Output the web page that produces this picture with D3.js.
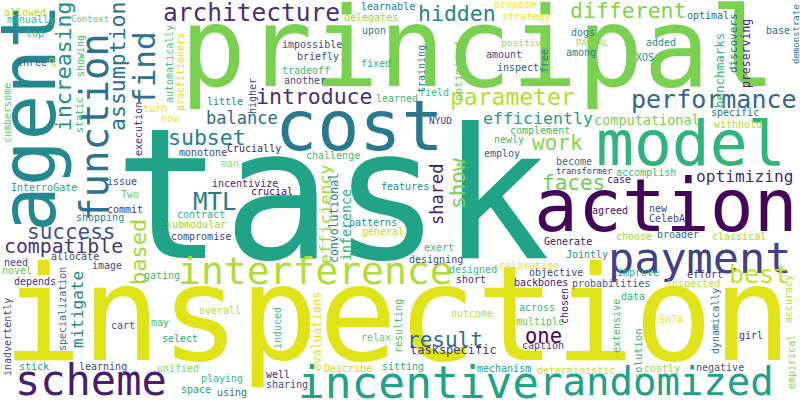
<!DOCTYPE html>
<html>
<head>
<meta charset="utf-8">
<script src="https://cdn.jsdelivr.net/npm/d3@7/dist/d3.min.js"></script>
<style>
html,body{margin:0;padding:0;background:#fff;}
svg{display:block;}
</style>
</head>
<body>
<script>
// Word cloud terms and their weights (font size units)
const words = [
"task","principal","inspection","cost","action","model","agent","scheme",
"incentive","randomized","interference","payment","function","architecture","performance","parameter",
"best","MTL","hidden","different","introduce","subset","increasing","assumption",
"find","work","faces","success","compatible","result","one","based",
"show","shared","efficiency","efficiently","optimizing","balance","mitigate","computational",
"inference","convolutional","taskspecific","evaluations","benchmarks","discovers","preserving","optimized",
"allowed","manually","Context","top","three","turn","now","little",
"learnable","delegates","upon","impossible","briefly","fixed","tradeoff","another",
"field","learned","propose","strategy","positive","amount","inspect","NYUD",
"complement","newly","optimal","dogs","PASCAL","among","added","XOS",
"base","specific","withhold","become","transformer","accomplish","case","agreed",
"new","CelebA","choose","broader","classical","Generate","Jointly","relaxation",
"monotone","Crucially","man","issue","InterroGate","Two","incentivize","crucial",
"commit","shopping","contract","submodular","compromise","allocate","need","image",
"novel","depends","gating","overall","may","cart","select","stick",
"learning","unified","playing","space","using","designing","designed","short",
"objective","backbones","improve","effort","probabilities","inspected","across","data",
"multiple","SoTA","girl","caption","deterministic","costly","negative","Describe",
"sitting","mechanism","well","sharing","relax","outcome","challenge","employ",
"features","patterns","general","exert",
"v2","showing","static","cumbersome","automatically","practitioners","higher","execution",
"training","free","demonstrate","specialization","inadvertently","induced","resulting","chosen",
"accuracy","extensive","dynamically","empirical","solution"
];
const weights = [
181,110,131,70,73,63,76,42,
44.5,39,38,43.5,39,24.5,25,23,
25,24,21.5,21.5,21.5,21.5,21.5,21.5,
31,21,21,21,19.8,21,20.5,22,
21,17,16.5,16.6,16.2,17,16,13.5,
13.3,11.5,12,12,12.5,11,11.5,11,
10,10,9,10,10,10,10,10,
10,10,10,10,10,10,10,10,
10,10,10,10,9.5,10,10,9.5,
10,10,10,10,9,10,10,10,
10,10,10,10,8.5,10,10,10,
10,10,10,10,10,10,10,10,
10,10,10,10,10,10,10,10,
10,10,10,10,10,10,10,10,
10,10,10,10,10,10,10,10,
10,10,10,10,10,10,10,10,
10,10,10,10,10,10,10,10,
10,10,10,10,10,10,10,10,
10,10,10,10,10,10,10,10,
10,10,10,10,
9,10,10,10,10,10,10,10,
10,10,9,10,10,10,10,10,
10,10,10,10,10.5
];
// Colour tone of each term on the viridis ramp
const tones = [
.58,.80,.95,.40,.01,.65,.47,.08,
.58,.57,.88,.19,.37,.13,.33,.89,
.92,.40,.45,.81,.14,.43,.49,.37,
.37,.82,.78,.26,.15,.35,.00,.86,
.80,.07,.85,.55,.12,.35,.46,.80,
.64,.43,.13,.96,.66,.34,.10,.79,
.87,.70,.78,.65,.30,.96,.98,.45,
.42,.84,.42,.22,.22,.65,.67,.23,
.69,.67,1.0,.98,.84,.22,.26,.17,
.67,.68,.35,.45,.85,.45,.50,.50,
.36,.38,.87,.35,.14,.68,.06,.04,
.22,.22,.86,.35,.87,.05,.50,.97,
.22,.07,.86,.23,.60,.78,.12,.03,
.15,.45,.65,.84,.19,.20,.18,.22,
.75,.14,.68,.89,.71,.26,.60,.55,
.20,.82,.68,.58,.37,.22,.68,.14,
.21,.06,.64,.13,.27,.90,.67,.65,
.74,.98,.14,.19,.92,.84,.27,.90,
.62,.55,.13,.20,.78,.90,.68,.32,
.47,.50,.90,.68,
.90,.68,.68,.75,.72,.93,.20,.14,
.40,.37,.39,.35,.22,.68,.68,.06,
.88,.68,.35,.82,.66
];
// Placement of each term: [x, y, vertical?]
// horizontal: x = text start, y = baseline; vertical: x = baseline, y = text start (reads upward)
const spots = [
[114,258,0],[180,86,0],[3,360,0],[275,150,0],[534,231,0],[596,165,0],[55,232,1],[15,395,0],
[298,398,0],[539,395,0],[178,284,0],[608,273,0],[108,221,1],[163,21,0],[631,108,0],[450,105,0],
[729,283,0],[193,210,0],[418,21,0],[570,18,0],[256,104,0],[168,145,0],[71,131,1],[125,131,1],
[155,106,1],[532,150,0],[542,190,0],[27,239,0],[4,253,0],[407,347,0],[525,343,0],[146,285,1],
[465,209,1],[443,225,1],[331,264,1],[483,124,0],[696,182,0],[206,124,0],[83,348,1],[594,125,0],
[351,261,1],[338,263,1],[410,354,0],[321,371,1],[724,108,1],[737,73,1],[750,88,1],[462,101,1],
[4,16,0],[7,23,0],[71,22,0],[26,37,0],[17,66,0],[143,112,0],[161,122,0],[207,105,0],
[361,10,0],[344,21,0],[362,34,0],[282,48,0],[297,60,0],[361,67,0],[282,74,0],[284,84,0],
[419,96,0],[376,102,0],[494,8,0],[502,20,0],[501,46,0],[486,58,0],[497,71,0],[429,124,0],
[510,134,0],[494,143,0],[687,19,0],[571,36,0],[576,46,0],[566,56,0],[646,46,0],[636,61,0],
[766,34,0],[711,116,0],[714,128,0],[556,165,0],[556,174,0],[616,176,0],[607,183,0],[592,214,0],
[649,212,0],[649,222,0],[616,240,0],[657,238,0],[712,240,0],[544,245,0],[566,258,0],[499,269,0],
[179,156,0],[227,152,0],[221,167,0],[107,185,0],[11,191,0],[121,198,0],[212,187,0],[251,195,0],
[107,213,0],[76,221,0],[177,218,0],[166,228,0],[171,240,0],[51,260,0],[4,266,0],[92,269,0],
[2,274,0],[14,285,0],[144,279,0],[199,314,0],[151,326,0],[111,329,0],[162,342,0],[19,370,0],
[79,370,0],[157,372,0],[201,382,0],[181,393,0],[217,396,0],[409,263,0],[449,273,0],[456,283,0],
[529,276,0],[514,286,0],[617,276,0],[687,278,0],[572,287,0],[666,287,0],[519,311,0],[621,300,0],
[516,325,0],[659,323,0],[739,339,0],[522,349,0],[537,374,0],[644,372,0],[696,371,0],[324,372,0],
[382,370,0],[477,372,0],[266,378,0],[266,388,0],[361,341,0],[451,317,0],[306,159,0],[484,157,0],
[381,190,0],[349,226,0],[362,235,0],[424,251,0],
[56,68,1],[84,77,1],[83,133,1],[11,143,1],[173,103,1],[184,111,1],[256,114,1],[142,156,1],
[425,93,1],[548,73,1],[799,64,1],[66,351,1],[11,376,1],[281,349,1],[402,353,1],[568,324,1],
[792,323,1],[620,353,1],[719,354,1],[795,389,1],[642,379,1]
];

const W = 800, H = 400;
const svg = d3.select("body").append("svg").attr("width", W).attr("height", H)
  .style("background", "#fff");
const x = d3.scaleLinear().domain([0, 800]).range([0, W]);
const y = d3.scaleLinear().domain([0, 400]).range([0, H]);
const size = d3.scaleLinear().domain([0, 181]).range([0, 181]);
const color = d3.scaleSequential(d3.interpolateViridis).domain([0, 1]);

svg.append("g")
  .attr("font-family", "'DejaVu Sans Mono', monospace")
  .selectAll("text")
  .data(d3.range(words.length))
  .join("text")
  .attr("transform", i => `translate(${x(spots[i][0])},${y(spots[i][1])})` + (spots[i][2] ? " rotate(-90)" : ""))
  .attr("font-size", i => size(weights[i]))
  .attr("fill", i => color(tones[i]))
  .text(i => words[i]);
</script>
</body>
</html>
